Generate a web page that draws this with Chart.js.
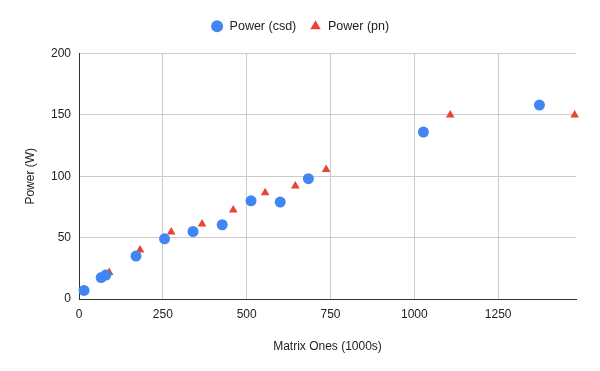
<!DOCTYPE html>
<html>
<head>
<meta charset="utf-8">
<script src="https://cdn.jsdelivr.net/npm/chart.js@4/dist/chart.umd.min.js"></script>
<style>
  html, body { margin: 0; padding: 0; background: #fff; }
  #wrap { width: 600px; height: 371px; }
</style>
</head>
<body>
<div id="wrap"><canvas id="chart1"></canvas></div>
<script>
// Power (csd) points: matrix ones (1000s) vs power (W)
var csdOnes = [15, 66, 80, 170, 255, 340, 427, 513, 600, 684, 1027, 1373];
var csdPower = [7, 17.5, 19.5, 35, 49, 55, 60.5, 80, 79, 98, 136, 158];
// Power (pn) points
var pnOnes = [15, 75, 90, 182, 275, 367, 460, 555, 645, 737, 1107, 1478];
var pnPower = [7.5, 20, 21.5, 40, 54.5, 61, 72.5, 86.5, 92, 105.5, 150, 150];

var xTicks = [0, 250, 500, 750, 1000, 1250];
var yTicks = [0, 50, 100, 150, 200];

function toPoints(xs, ys) {
    var pts = [];
    for (var i = 0; i < xs.length; i++) pts.push({ x: xs[i], y: ys[i] });
    return pts;
}

// push the plot a bit lower under the legend, and center legend on the page
var legendGap = {
    id: "legendGap",
    beforeInit: function (chart) {
        var fit = chart.legend.fit;
        chart.legend.fit = function () {
            fit.bind(chart.legend)();
            this.height += 11;
        };
    },
    afterLayout: function (chart) {
        chart.legend.left += 12;
        chart.legend.right += 12;
    }
};

Chart.defaults.font.family = "'Liberation Sans', Arial, sans-serif";
Chart.defaults.font.size = 12;
Chart.defaults.color = "#222";

var ctx = document.getElementById("chart1");
var chart1 = new Chart(ctx, {
    type: "scatter",
    plugins: [legendGap],
    data: {
        datasets: [
            {
                label: "Power (csd)",
                data: toPoints(csdOnes, csdPower),
                pointStyle: "circle",
                pointRadius: 5.5,
                backgroundColor: "#4285F4",
                borderColor: "#4285F4",
                borderWidth: 0,
                clip: false
            },
            {
                label: "Power (pn)",
                data: toPoints(pnOnes, pnPower),
                pointStyle: "triangle",
                pointRadius: 5,
                backgroundColor: "#EA4335",
                borderColor: "#EA4335",
                borderWidth: 0,
                clip: false
            }
        ]
    },
    options: {
        responsive: true,
        maintainAspectRatio: false,
        animation: false,
        layout: { padding: { left: 0, right: 24, top: 7, bottom: 0 } },
        plugins: {
            legend: {
                position: "top",
                labels: {
                    usePointStyle: true,
                    boxWidth: 18,
                    boxHeight: 8.5,
                    padding: 13,
                    color: "#222",
                    font: { size: 12.5 }
                }
            },
            tooltip: { enabled: false }
        },
        scales: {
            x: {
                type: "linear",
                min: 0,
                max: 1482,
                afterBuildTicks: function (axis) {
                    axis.ticks = xTicks.map(function (v) { return { value: v }; });
                },
                afterFit: function (axis) { axis.height = 72; },
                ticks: {
                    color: "#222",
                    padding: 8,
                    maxRotation: 0,
                    callback: function (v) { return String(v); }
                },
                grid: { color: "#cccccc", drawTicks: false },
                border: { color: "#333", width: 1 },
                title: {
                    display: true,
                    text: "Matrix Ones (1000s)",
                    color: "#222",
                    font: { size: 12 },
                    padding: { top: 4, bottom: 17 }
                }
            },
            y: {
                min: 0,
                max: 200,
                afterBuildTicks: function (axis) {
                    axis.ticks = yTicks.map(function (v) { return { value: v }; });
                },
                afterFit: function (axis) { axis.width = 79; },
                ticks: { color: "#222", padding: 8 },
                grid: { color: "#cccccc", drawTicks: false },
                border: { color: "#333", width: 1 },
                title: {
                    display: true,
                    text: "Power (W)",
                    color: "#222",
                    font: { size: 12 },
                    padding: { top: 23, bottom: 4 }
                }
            }
        }
    }
});
</script>
</body>
</html>
